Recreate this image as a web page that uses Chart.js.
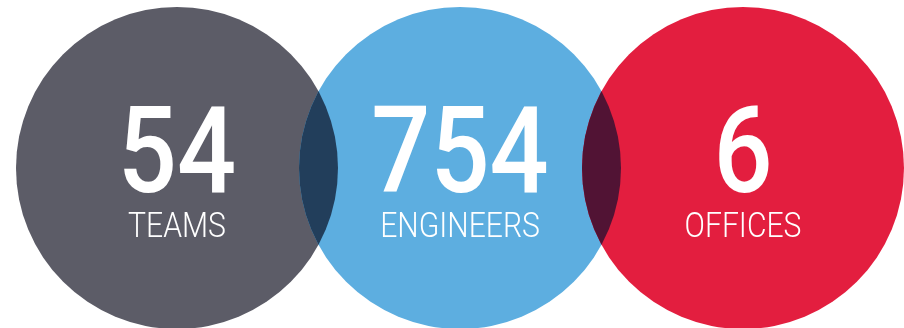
<!DOCTYPE html>
<html>
<head>
<meta charset="utf-8">
<script src="https://cdn.jsdelivr.net/npm/chart.js@4"></script>
<style>
  html, body { margin: 0; padding: 0; background: #fff; }
  #wrap { width: 904px; height: 328px; position: relative; }
</style>
</head>
<body>
<div id="wrap"><canvas id="chart"></canvas></div>
<script>
const LABELS = ['TEAMS', 'ENGINEERS', 'OFFICES'];
const VALUES = [54, 754, 6];
const POSITIONS = [0, 1, 2];

const FILLS   = ['#5c5c67', '#5daee0', '#e31e3f'];
const OVERLAP = ['#223e5b', '#511334'];

// lens where neighbouring circles meet
const overlapPlugin = {
  id: 'overlap',
  afterDatasetsDraw(chart) {
    const ctx = chart.ctx;
    const pts = chart.getDatasetMeta(0).data;
    for (let i = 0; i < pts.length - 1; i++) {
      const a = pts[i], b = pts[i + 1];
      ctx.save();
      ctx.beginPath();
      ctx.arc(a.x, a.y, a.options.radius, 0, Math.PI * 2);
      ctx.clip();
      ctx.beginPath();
      ctx.arc(b.x, b.y, b.options.radius, 0, Math.PI * 2);
      ctx.fillStyle = OVERLAP[i];
      ctx.fill();
      ctx.restore();
    }
  }
};

const textPlugin = {
  id: 'bigText',
  afterDraw(chart) {
    const ctx = chart.ctx;
    const pts = chart.getDatasetMeta(0).data;
    pts.forEach((p, i) => {
      ctx.save();
      ctx.fillStyle = '#fff';
      ctx.textAlign = 'center';
      ctx.textBaseline = 'alphabetic';

      ctx.save();
      ctx.translate(p.x, p.y + 24);
      ctx.scale(0.86, 1);
      ctx.font = '500 121px Roboto';
      ctx.fillText(String(VALUES[i]), 0, 0);
      ctx.restore();

      ctx.save();
      ctx.translate(p.x, p.y + 69);
      ctx.scale(0.86, 1);
      ctx.font = '300 35px Roboto';
      ctx.fillText(LABELS[i], 0, 0);
      ctx.restore();

      ctx.restore();
    });
  }
};

new Chart(document.getElementById('chart'), {
  type: 'scatter',
  data: {
    labels: LABELS,
    datasets: [{
      data: POSITIONS.map(x => ({ x, y: 0 })),
      backgroundColor: FILLS,
      borderWidth: 0,
      pointRadius: 161,
      pointHoverRadius: 161,
      clip: false
    }]
  },
  options: {
    responsive: true,
    maintainAspectRatio: false,
    animation: false,
    events: [],
    layout: { padding: 0, autoPadding: false },
    plugins: {
      legend: { display: false },
      tooltip: { enabled: false }
    },
    scales: {
      x: { type: 'linear', display: false, min: -0.6254, max: 2.5689 },
      y: { type: 'linear', display: false, min: -160, max: 168 }
    }
  },
  plugins: [overlapPlugin, textPlugin]
});
</script>
</body>
</html>
